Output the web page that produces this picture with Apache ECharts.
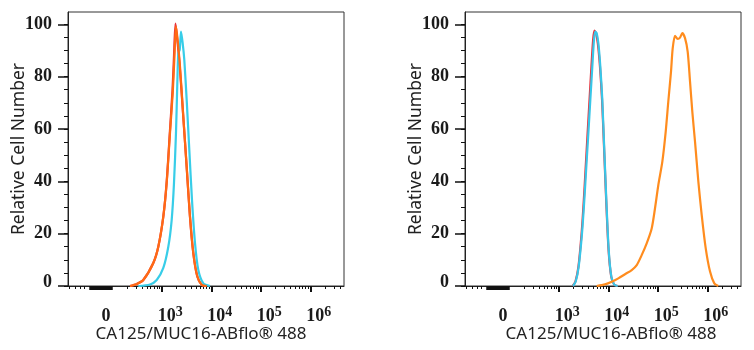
<!DOCTYPE html>
<html>
<head>
<meta charset="utf-8">
<script src="https://cdn.jsdelivr.net/npm/echarts@6/dist/echarts.min.js"></script>
<style>html,body{margin:0;padding:0;background:#fff}#c{width:754px;height:350px}</style>
</head>
<body>
<div id="c"></div>
<script>
// ---- Axis (display units: log10 of fluorescence; "0" sits on the biexponential linear region) ----
const X_MIN = 1.108, X_MAX = 6.68, ZERO_POS = 1.865;
const Y_MIN = 0, Y_MAX = 104.7;
const xLabelValues = [ZERO_POS, 3, 4, 5, 6];
const xLabelTexts = ['{b|0}', '{b|10}{s|3}', '{b|10}{s|4}', '{b|10}{s|5}', '{b|10}{s|6}'];
const xMajorTicks = [3, 4, 5, 6];
const xNegTicks = [1.134, 1.255, 1.356, 1.445];
const yLabelValues = [0, 20, 40, 60, 80, 100];
const xTitle = 'CA125/MUC16-ABflo\u00AE 488';
const yTitle = 'Relative Cell Number';

// ---- Left panel ----
const leftRedX = [2.36, 2.495, 2.628, 2.83, 2.931, 3.032, 3.1, 3.165, 3.218, 3.248, 3.278, 3.31, 3.36, 3.43, 3.5, 3.568, 3.635, 3.716, 3.805, 3.905];
const leftRedY = [0, 0.8, 2.3, 8.8, 15, 26.5, 39.8, 59, 75, 88, 100.3, 95, 85, 66, 46.5, 27, 13, 3.8, 0.5, 0];
const leftOrangeX = [2.36, 2.495, 2.628, 2.83, 2.931, 3.032, 3.1, 3.167, 3.222, 3.254, 3.288, 3.322, 3.369, 3.436, 3.504, 3.571, 3.638, 3.719, 3.807, 3.908];
const leftOrangeY = [0, 0.8, 2.3, 8.8, 15, 26.5, 39.4, 58.5, 73.7, 86.4, 99.2, 94, 83.8, 64.7, 45.6, 26.5, 12.5, 3.6, 0.5, 0];
const leftCyanX = [2.527, 2.764, 2.899, 3.032, 3.133, 3.201, 3.248, 3.288, 3.315, 3.335, 3.363, 3.39, 3.423, 3.456, 3.504, 3.557, 3.611, 3.672, 3.739, 3.84, 3.975];
const leftCyanY = [0, 0.6, 2.3, 6.9, 15, 25.2, 39.4, 58.5, 77.6, 89, 90.2, 97.2, 92.8, 86.4, 71.1, 52, 32.9, 16.4, 6.1, 1, 0];

// ---- Right panel ----
const rightRedX = [3.283, 3.338, 3.398, 3.462, 3.507, 3.545, 3.583, 3.622, 3.66, 3.694, 3.72, 3.755, 3.79, 3.833, 3.875, 3.917, 3.958, 4.006, 4.06, 4.12, 4.19];
const rightRedY = [0, 1.7, 7.4, 20.1, 32.9, 45.6, 58.3, 71.1, 83.8, 94, 97.6, 96.4, 92.6, 83.8, 71.1, 52, 32.9, 13.8, 3.6, 0.5, 0];
const rightCyanX = [3.288, 3.343, 3.403, 3.47, 3.517, 3.557, 3.598, 3.638, 3.678, 3.712, 3.739, 3.767, 3.8, 3.84, 3.88, 3.92, 3.961, 4.009, 4.062, 4.122, 4.191];
const rightCyanY = [0, 1.7, 7.4, 20.1, 32.9, 45.6, 58.3, 71.1, 83.8, 94, 97.2, 96.6, 92.8, 83.8, 71.1, 52, 32.9, 13.8, 3.6, 0.5, 0];
const rightOrangeX = [3.767, 3.935, 4.07, 4.203, 4.338, 4.474, 4.575, 4.675, 4.776, 4.877, 4.944, 5.011, 5.092, 5.16, 5.212, 5.267, 5.301, 5.348, 5.402, 5.449, 5.495, 5.55, 5.604, 5.651, 5.697, 5.752, 5.819, 5.887, 5.968, 6.055, 6.141, 6.222];
const rightOrangeY = [0, 0.6, 1.6, 2.9, 4.5, 6.1, 8.0, 11.8, 16.3, 22, 29.7, 38.6, 47.5, 59, 70.4, 81.9, 90.8, 95.6, 94.4, 94.9, 96.6, 94.7, 89.5, 78.1, 66.6, 55.1, 39.9, 27.1, 14.4, 5.5, 1, 0];

const zip = (xs, ys) => xs.map((x, i) => [x, ys[i]]);

// tick positions
const xMinorTicks = [];
for (let n = 2; n <= 6; n++) for (let k = 2; k <= 9; k++) {
  const v = n + Math.log10(k);
  if (v < X_MAX) xMinorTicks.push(v);
}
xNegTicks.forEach(v => xMinorTicks.push(v));
const xDenseTicks = [];
for (let v = 1.552; v <= 1.996; v += 0.02) xDenseTicks.push(+v.toFixed(3));
const yMinorTicks = [];
for (let v = 0; v <= 100; v += 5) yMinorTicks.push(v);

const LABEL_SHIFT = 0.08; // labels start a little left of their tick
const xLabelPos = xLabelValues.map(v => v - LABEL_SHIFT);

const BLACK = '#1a1a1a';
const labelFont = 'Liberation Serif';
const titleFont = 'Noto Sans';

const grids = [
  { left: 68, top: 12, width: 276, height: 274, show: true, borderColor: '#333', borderWidth: 1, backgroundColor: '#fff' },
  { left: 465, top: 12, width: 276, height: 274, show: true, borderColor: '#333', borderWidth: 1, backgroundColor: '#fff' }
];
const titlePad = [[0, 10, 0, 0], [0, 0, 0, 16]];

const xAxes = [], yAxes = [];
[0, 1].forEach(g => {
  xAxes.push({
    type: 'value', gridIndex: g, min: X_MIN, max: X_MAX, position: 'bottom',
    name: xTitle, nameLocation: 'middle', nameGap: 40, nameMoveOverlap: false,
    nameTextStyle: { fontFamily: titleFont, fontSize: 17, color: '#222', padding: titlePad[g] },
    axisLine: { show: true, onZero: false, lineStyle: { color: '#222', width: 1 } },
    axisTick: { show: true, customValues: xMinorTicks, length: 3, lineStyle: { color: '#111', width: 1 } },
    axisLabel: {
      show: true, customValues: xLabelPos, margin: 19, align: 'left',
      formatter: v => { const i = xLabelPos.findIndex(t => Math.abs(t - v) < 1e-6); return i >= 0 ? xLabelTexts[i] : ''; },
      rich: {
        b: { fontFamily: labelFont, fontWeight: 'bold', fontSize: 18, lineHeight: 20, color: BLACK, verticalAlign: 'bottom' },
        s: { fontFamily: labelFont, fontWeight: 'bold', fontSize: 14, lineHeight: 14, color: BLACK, verticalAlign: 'top' }
      }
    },
    splitLine: { show: false }
  });
  xAxes.push({
    type: 'value', gridIndex: g, min: X_MIN, max: X_MAX, position: 'bottom', offset: 0,
    axisLine: { show: false, onZero: false },
    axisTick: { show: true, customValues: xMajorTicks, length: 6, lineStyle: { color: '#111', width: 2 } },
    axisLabel: { show: false }, splitLine: { show: false }
  });
  xAxes.push({
    type: 'value', gridIndex: g, min: X_MIN, max: X_MAX, position: 'bottom', offset: 0,
    axisLine: { show: false, onZero: false },
    axisTick: { show: true, customValues: xDenseTicks, length: 4, lineStyle: { color: '#111', width: 1.5 } },
    axisLabel: { show: false }, splitLine: { show: false }
  });
  yAxes.push({
    type: 'value', gridIndex: g, min: Y_MIN, max: Y_MAX, position: 'left',
    name: yTitle, nameLocation: 'middle', nameGap: 39.5, nameRotate: 90, nameMoveOverlap: false,
    nameTextStyle: { fontFamily: titleFont, fontSize: 17.5, color: '#222' },
    axisLine: { show: true, onZero: false, lineStyle: { color: '#222', width: 1 } },
    axisTick: { show: true, customValues: yMinorTicks, length: 4, lineStyle: { color: '#111' } },
    axisLabel: {
      show: true, customValues: yLabelValues, margin: 16,
      formatter: v => v === 0 ? '{z|0}' : '{n|' + v + '}',
      rich: {
        n: { fontFamily: labelFont, fontWeight: 'bold', fontSize: 18, color: BLACK },
        z: { fontFamily: labelFont, fontWeight: 'bold', fontSize: 18, color: BLACK, padding: [0, 0, 8, 0] }
      }
    },
    splitLine: { show: false }
  });
  yAxes.push({
    type: 'value', gridIndex: g, min: Y_MIN, max: Y_MAX, position: 'left', offset: 0,
    axisLine: { show: false, onZero: false },
    axisTick: { show: true, customValues: yLabelValues, length: 10, lineStyle: { color: '#111', width: 1.5 } },
    axisLabel: { show: false }, splitLine: { show: false }
  });
});

const line = (g, data, color, z) => ({
  type: 'line', xAxisIndex: g * 3, yAxisIndex: g * 2, data, showSymbol: false, symbol: 'none',
  smooth: 0.25, lineStyle: { color, width: 2.2 }, z, animation: false, silent: true
});

const chart = echarts.init(document.getElementById('c'), null, { renderer: 'canvas' });
chart.setOption({
  backgroundColor: '#fff',
  animation: false,
  grid: grids,
  xAxis: xAxes,
  yAxis: yAxes,
  series: [
    line(0, zip(leftRedX, leftRedY), '#e8323c', 2),
    line(0, zip(leftCyanX, leftCyanY), '#38cde8', 3),
    line(0, zip(leftOrangeX, leftOrangeY), '#ff6a14', 4),
    line(1, zip(rightRedX, rightRedY), '#e8323c', 2),
    line(1, zip(rightCyanX, rightCyanY), '#38c6e8', 3),
    line(1, zip(rightOrangeX, rightOrangeY), '#ff8c1e', 4)
  ]
});
</script>
</body>
</html>
